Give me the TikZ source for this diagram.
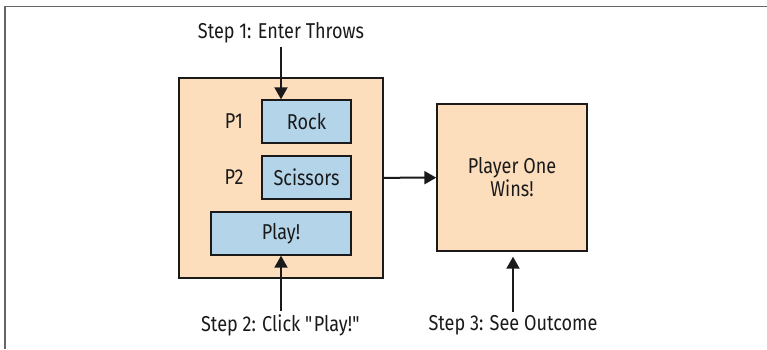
\documentclass[tikz,border=0pt]{standalone}
\usepackage{fontspec}
\setmainfont{Fira Sans}[FakeStretch=0.84]
\usetikzlibrary{arrows.meta,positioning}
\definecolor{peach}{HTML}{FCDEBC}
\definecolor{paleblue}{HTML}{B4D4EA}
\definecolor{ink}{HTML}{1A1A1A}
\tikzset{
	panel/.style={draw=ink, line width=1.4pt, fill=peach, inner sep=0pt, align=center},
	field/.style={draw=ink, line width=1.4pt, fill=paleblue, inner sep=0pt, minimum width=89, minimum height=43},
	arr/.style={-{Triangle[length=12pt,width=13pt]}, line width=2pt, draw=ink},
	frame/.style={draw=gray!80!black, line width=1.6pt}
}

\begin{document}
\begin{tikzpicture}[x=1pt, y=-1pt, font=\fontsize{21.5}{23}\selectfont, text=ink]
		\useasboundingbox (0,0) rectangle (767,349);
		\draw[frame] (5,349) -- (5,6.5) -- (767,6.5);
		\node[panel, minimum width=204, minimum height=200] (form) at (281,178) {};
		\node[field] (rock) at (306.5,121.5) {Rock};
		\node[field] (scissors) at (306.5,177.5) {Scissors};
		\node[field, minimum width=140] (play) at (281,233.5) {Play!};
		\node (p1) at (234,121.5) {P1};
		\node (p2) at (234,177.5) {P2};
		\node[panel, minimum width=150, minimum height=147] (result) at (512,177.5) {Player One\\Wins!};
		\node (step1) at (281,33) {Step 1: Enter Throws};
		\node (step2) at (281,325) {Step 2: Click \textquotedbl Play!\textquotedbl};
		\node (step3) at (513,325) {Step 3: See Outcome};
		\draw[arr] (step1.south) -- (step1.south |- rock.north);
		\draw[arr] (step2) -- (play);
		\draw[arr] (form) -- (result);
		\draw[arr, shorten >=5pt] (step3) -- (step3 |- result.south);
	\end{tikzpicture}
\end{document}
